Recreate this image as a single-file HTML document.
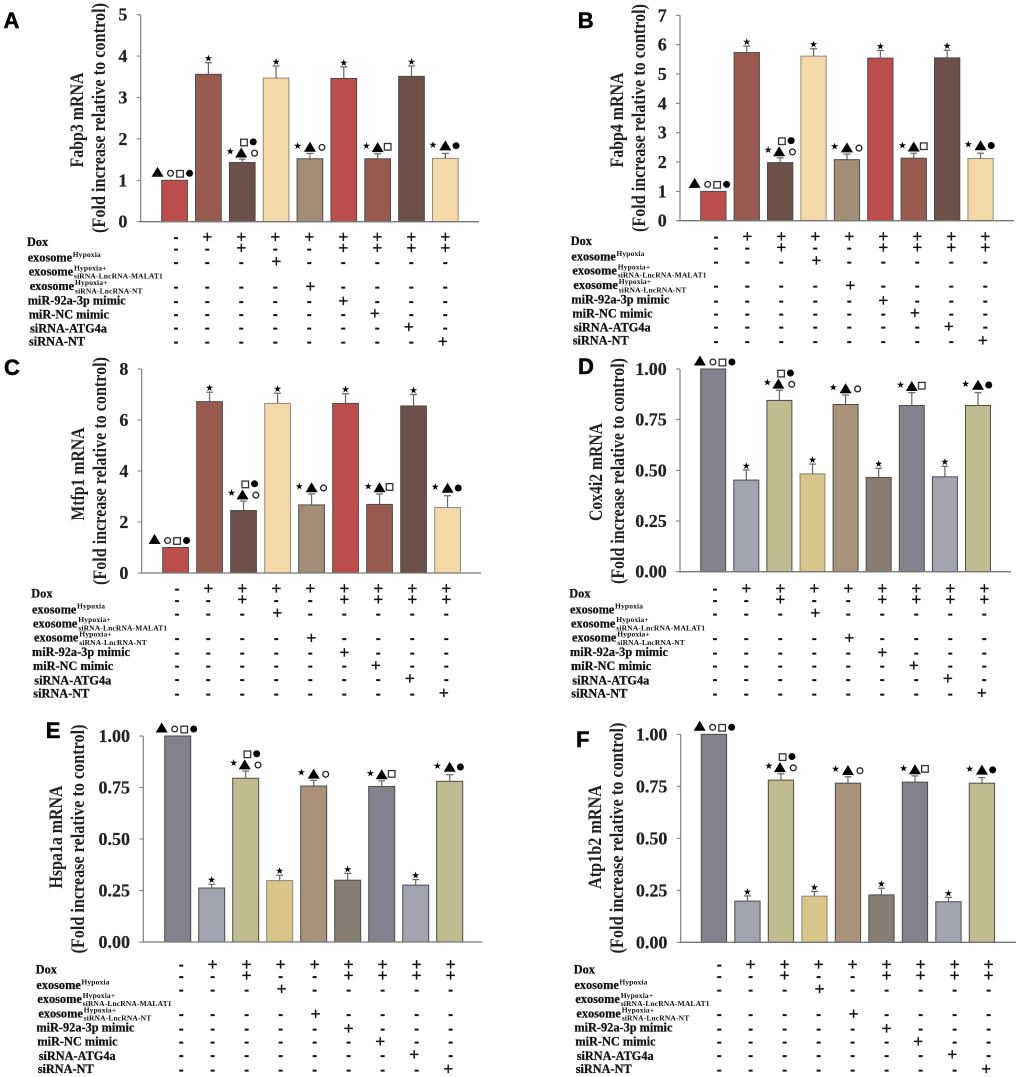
<!DOCTYPE html>
<html lang="en">
<head>
<meta charset="utf-8">
<title>mRNA fold increase panels</title>
<style>
html,body{margin:0;padding:0;background:#fff;}
svg{display:block;}
</style>
</head>
<body>
<svg id="figure" xmlns="http://www.w3.org/2000/svg" width="1020" height="1077" viewBox="0 0 1020 1077"></svg>
<script>
// ---- Data ----
const categories = ['control','dox','dox-exo-hypoxia','dox-exo-malat1','dox-exo-nt','dox-mir92a','dox-mir-nc','dox-si-atg4a','dox-si-nt'];

const valuesFabp3 = [1, 3.56, 1.43, 3.47, 1.52, 3.46, 1.52, 3.51, 1.53];
const errorsFabp3 = [0, 0.28, 0.08, 0.29, 0.13, 0.28, 0.12, 0.25, 0.12];
const ticksFabp3 = ['0','1','2','3','4','5'];

const valuesFabp4 = [1, 5.73, 1.98, 5.61, 2.08, 5.54, 2.13, 5.55, 2.12];
const errorsFabp4 = [0, 0.22, 0.16, 0.25, 0.19, 0.26, 0.17, 0.26, 0.18];
const ticksFabp4 = ['0','1','2','3','4','5','6','7'];

const valuesMtfp1 = [1, 6.72, 2.45, 6.65, 2.67, 6.65, 2.69, 6.55, 2.57];
const errorsMtfp1 = [0, 0.37, 0.37, 0.40, 0.43, 0.38, 0.41, 0.45, 0.46];
const ticksMtfp1 = ['0','2','4','6','8'];

const valuesCox4i2 = [1, 0.452, 0.845, 0.483, 0.825, 0.465, 0.82, 0.468, 0.82];
const errorsCox4i2 = [0, 0.05, 0.05, 0.048, 0.047, 0.045, 0.063, 0.052, 0.063];
const ticksCox4i2 = ['0.00','0.25','0.50','0.75','1.00'];

const valuesHspa1a = [1, 0.262, 0.795, 0.298, 0.757, 0.30, 0.755, 0.276, 0.78];
const errorsHspa1a = [0, 0.018, 0.035, 0.026, 0.028, 0.033, 0.027, 0.027, 0.032];
const ticksHspa1a = ['0.00','0.25','0.50','0.75','1.00'];

const valuesAtp1b2 = [1, 0.198, 0.78, 0.222, 0.765, 0.228, 0.77, 0.195, 0.765];
const errorsAtp1b2 = [0, 0.025, 0.03, 0.022, 0.031, 0.032, 0.03, 0.021, 0.027];
const ticksAtp1b2 = ['0.00','0.25','0.50','0.75','1.00'];

// significance symbols above each bar: s star, t triangle, c open circle, q open square, d filled circle
const significance = ['tcqd','s','stcqd','s','stc','s','stq','s','std'];

// treatment sign table, one string per row, one character per bar
const treatmentRows = [
  '-++++++++',
  '--+--++++',
  '---+-----',
  '----+----',
  '-----+---',
  '------+--',
  '-------+-',
  '--------+'
];

// ---- Layout ----
const warm = ['#bb4e4a','#995b50','#6d5049','#f3d8a8','#a28e76','#bb4e4a','#995b50','#6d5049','#f3d8a8'];
const cool = ['#84808d','#a2a4b2','#bfbc90','#d8c58a','#a8927a','#877d72','#84808d','#a2a4b2','#bfbc90'];

const panels = [
  {letter:'A',lx:3.5,ly:28,gene:'Fabp3 mRNA',values:valuesFabp3,errors:errorsFabp3,ticks:ticksFabp3,colors:warm,
   ax:140.7,y0:221.7,yTop:14.7,xEnd:479,first:161.7,step:33.85,w:25.7,t1:[77,120],t2:[99,118],tlen:[95,230],
   tx:0,ty:0,mx:0,my:0,shift:0},
  {letter:'B',lx:577.7,ly:28,gene:'Fabp4 mRNA',values:valuesFabp4,errors:errorsFabp4,ticks:ticksFabp4,colors:warm,
   ax:680,y0:220.7,yTop:15.3,xEnd:1014,first:700.7,step:33.4,w:25.3,t1:[617,120],t2:[639,118],tlen:[95,228],
   tx:543.7,ty:-1,mx:540,my:-0.7,shift:-1.7},
  {letter:'C',lx:4,ly:375,gene:'Mtfp1 mRNA',values:valuesMtfp1,errors:errorsMtfp1,ticks:ticksMtfp1,colors:warm,
   ax:141.7,y0:573,yTop:369,xEnd:481,first:162.7,step:34,w:25.7,t1:[78,474],t2:[100,471],tlen:[93,228],
   tx:4.3,ty:351.7,mx:1,my:351.7,shift:-4},
  {letter:'D',lx:578,ly:374,gene:'Cox4i2 mRNA',values:valuesCox4i2,errors:errorsCox4i2,ticks:ticksCox4i2,colors:cool,
   ax:680,y0:571.7,yTop:369,xEnd:1011,first:700.7,step:33.1,w:25,t1:[596,472],t2:[618,471],tlen:[98,226],
   tx:542.3,ty:351.7,mx:539,my:351.7,shift:3.7},
  {letter:'E',lx:45.7,ly:738,gene:'Hspa1a mRNA',values:valuesHspa1a,errors:errorsHspa1a,ticks:ticksHspa1a,colors:cool,
   ax:143.3,y0:942,yTop:736,xEnd:482.3,first:164.7,step:34,w:26,t1:[56,837],t2:[78,839],tlen:[103,229],
   tx:8.7,ty:727.3,mx:5.3,my:727.7,shift:1},
  {letter:'F',lx:576,ly:747,gene:'Atp1b2 mRNA',values:valuesAtp1b2,errors:errorsAtp1b2,ticks:ticksAtp1b2,colors:cool,
   ax:680.7,y0:942.3,yTop:734.3,xEnd:1016,first:701.3,step:33.5,w:25.3,t1:[595,837],t2:[617,838],tlen:[104,231],
   tx:546.7,ty:727.3,mx:543.3,my:727.7,shift:2.7}
];

const SVGNS = 'http://www.w3.org/2000/svg';
const figure = document.getElementById('figure');
const SERIF = '"Liberation Serif", serif';

function mk(parent, tag, attrs, text) {
  const node = document.createElementNS(SVGNS, tag);
  for (const k in attrs) node.setAttribute(k, attrs[k]);
  if (text !== undefined) node.textContent = text;
  parent.appendChild(node);
  return node;
}

function markerOffsets(i) {
  if (i === 0) return {t:[-17,-3.5],c:[-4,-7],q:[5.5,-6.5],d:[15,-7]};
  if (i === 2) return {s:[-12,-8.3],t:[-1,-1.7],c:[12.3,-6],q:[1.7,-16.7],d:[11,-17.3]};
  if (i === 4) return {s:[-12.3,-8],t:[0,-1.7],c:[12,-6]};
  if (i === 6) return {s:[-11.3,-8],t:[0,-1.7],q:[10,-7]};
  if (i === 8) return {s:[-12.3,-9],t:[0,-3],d:[10.7,-7.7]};
  return {s:[0,-4.5]};
}

function drawSymbol(g, kind, x, y) {
  let el;
  if (kind === 's') {
    el = mk(g,'text',{x:x,y:y+3.4,'text-anchor':'middle','font-family':'"DejaVu Sans", sans-serif','font-size':9.5,fill:'#000'},'★');
    
    
  } else if (kind === 't') {
    el = mk(g,'path',{d:'M'+(x-6)+' '+y+'L'+x+' '+(y-10)+'L'+(x+6)+' '+y+'Z',fill:'#000'});
    
    
  } else if (kind === 'c') {
    el = mk(g,'circle',{cx:x,cy:y,r:2.9,fill:'#fff',stroke:'#222','stroke-width':1.3});
    
    
  } else if (kind === 'q') {
    el = mk(g,'rect',{x:x-3.3,y:y-3.3,width:6.6,height:6.6,fill:'#fff',stroke:'#333','stroke-width':1.3});
    
    
  } else {
    el = mk(g,'circle',{cx:x,cy:y,r:3.5,fill:'#000'});
    
    
  }
}

function rowLabel(g, name, x, y, main) {
  const el = mk(g,'text',{x:x,y:y,'font-family':SERIF,'font-weight':'bold','font-size':12.3,fill:'#111',stroke:'#111','stroke-width':0.25},main);
  
  
}

function tinyLabel(g, name, x, y, str) {
  const el = mk(g,'text',{x:x,y:y,'font-family':SERIF,'font-weight':'bold','font-size':7.5,'letter-spacing':0.15,fill:'#111'},str);
  
  
}

function drawTable(g, p) {
  const tx = p.tx, ty = p.ty;
  rowLabel(g,'row-label-dox',27+tx,246+ty,'Dox');
  rowLabel(g,'row-label-exosome-hypoxia',27.7+tx,261.7+ty,'exosome');
  tinyLabel(g,'row-label-exosome-hypoxia-sup',72.7+tx,257+ty,'Hypoxia');
  rowLabel(g,'row-label-exosome-malat1',28.7+tx,275.7+ty,'exosome');
  tinyLabel(g,'row-label-exosome-malat1-sup',74+tx,270.5+ty,'Hypoxia+');
  tinyLabel(g,'row-label-exosome-malat1-sub',74+tx,278.7+ty,'siRNA-LncRNA-MALAT1');
  rowLabel(g,'row-label-exosome-nt',29.7+tx,290+ty,'exosome');
  tinyLabel(g,'row-label-exosome-nt-sup',75+tx,285+ty,'Hypoxia+');
  tinyLabel(g,'row-label-exosome-nt-sub',75+tx,293.3+ty,'siRNA-LncRNA-NT');
  rowLabel(g,'row-label-mir92a-mimic',27.7+tx,304.3+ty,'miR-92a-3p mimic');
  rowLabel(g,'row-label-mir-nc-mimic',28.7+tx,318.3+ty,'miR-NC mimic');
  rowLabel(g,'row-label-sirna-atg4a',30+tx,332.7+ty,'siRNA-ATG4a');
  rowLabel(g,'row-label-sirna-nt',29+tx,345.7+ty,'siRNA-NT');

  const dashRow = [238,249.3,263,287.3,302,315,328.3,342.7];
  const plusRow = [236.7,247.7,261,286,300.7,313.3,326.7,341];
  treatmentRows.forEach(function(row, r) {
    row.split('').forEach(function(sign, c) {
      const base = c === 0 ? 176 : 207.3 + 34 * (c - 1);
      const isPlus = sign === '+';
      let nudge = 0;
      if (isPlus && r >= 2) nudge = c <= 4 ? 1 : (c === 5 ? 0 : -2.4);
      const x = base + nudge + p.mx;
      const y = (isPlus ? plusRow[r] + 5.8 : dashRow[r] + 4) + p.my;
      const el = mk(g,'text',{x:x,y:y,'text-anchor':'middle','font-family':'"Liberation Sans", sans-serif','font-weight':isPlus?'normal':'bold','font-size':isPlus?17:15,fill:'#111',stroke:'#111','stroke-width':isPlus?0.3:0.2},sign);
      
      
    });
  });
}

panels.forEach(function(p) {
  const g = mk(figure,'g',{});
  
  

  const maxTick = parseFloat(p.ticks[p.ticks.length - 1]);
  const yScale = function(v) { return p.y0 - (v / maxTick) * (p.y0 - p.yTop); };
  const xScale = function(i) { return p.first + p.step * i; };

  const letter = mk(g,'text',{x:p.lx,y:p.ly,'font-family':'"Liberation Sans", sans-serif','font-weight':'bold','font-size':22,fill:'#000',stroke:'#000','stroke-width':0.5},p.letter);
  
  

  const title1 = mk(g,'text',{transform:'translate('+(p.t1[0]+6)+' '+p.t1[1]+') rotate(-90)','text-anchor':'middle','font-family':SERIF,'font-weight':'bold','font-size':19,fill:'#222',textLength:p.tlen[0],lengthAdjust:'spacingAndGlyphs'},p.gene);
  
  

  const title2 = mk(g,'text',{transform:'translate('+(p.t2[0]+6)+' '+p.t2[1]+') rotate(-90)','text-anchor':'middle','font-family':SERIF,'font-weight':'bold','font-size':19,fill:'#222',textLength:p.tlen[1],lengthAdjust:'spacingAndGlyphs'},'(Fold increase relative to control)');
  
  

  p.values.forEach(function(v, i) {
    const x = xScale(i), top = yScale(v), cx = x + p.w / 2;
    const errTop = yScale(v + p.errors[i]);
    if (p.errors[i] > 0) {
      const stem = mk(g,'line',{x1:cx,x2:cx,y1:top,y2:errTop,stroke:'#666','stroke-width':1.2});
      
      
      const cap = mk(g,'line',{x1:cx-3.5,x2:cx+3.5,y1:errTop,y2:errTop,stroke:'#666','stroke-width':1.2});
      
      
    }
    const bar = mk(g,'rect',{x:x,y:top,width:p.w,height:p.y0-top,fill:p.colors[i],stroke:'#4f4a48','stroke-width':1,'stroke-opacity':(p.colors[i]==='#f3d8a8'||p.colors[i]==='#d8c58a')?0.6:1});
    
    

    const offsets = markerOffsets(i);
    significance[i].split('').forEach(function(kind) {
      const o = offsets[kind];
      const sx = cx + o[0] + (i === 0 ? p.shift : 0);
      const refY = i === 0 ? top : errTop;
      drawSymbol(g, kind, sx, refY + o[1]);
    });
  });

  const xAxis = mk(g,'line',{x1:p.ax-1,x2:p.xEnd,y1:p.y0,y2:p.y0,stroke:'#777','stroke-width':1.3});
  
  
  const yAxis = mk(g,'line',{x1:p.ax,x2:p.ax,y1:p.yTop,y2:p.y0,stroke:'#777','stroke-width':1.1});
  
  

  p.ticks.forEach(function(label) {
    const ty = yScale(parseFloat(label));
    const tick = mk(g,'line',{x1:p.ax-4,x2:p.ax,y1:ty,y2:ty,stroke:'#777','stroke-width':1});
    
    
    const tl = mk(g,'text',{x:p.ax-13.3,y:ty+6,'text-anchor':'end','font-family':SERIF,'font-weight':'bold','font-size':18,fill:'#222',stroke:'#222','stroke-width':0.2},label);
    
    
  });

  drawTable(g, p);
});
</script>
</body>
</html>
